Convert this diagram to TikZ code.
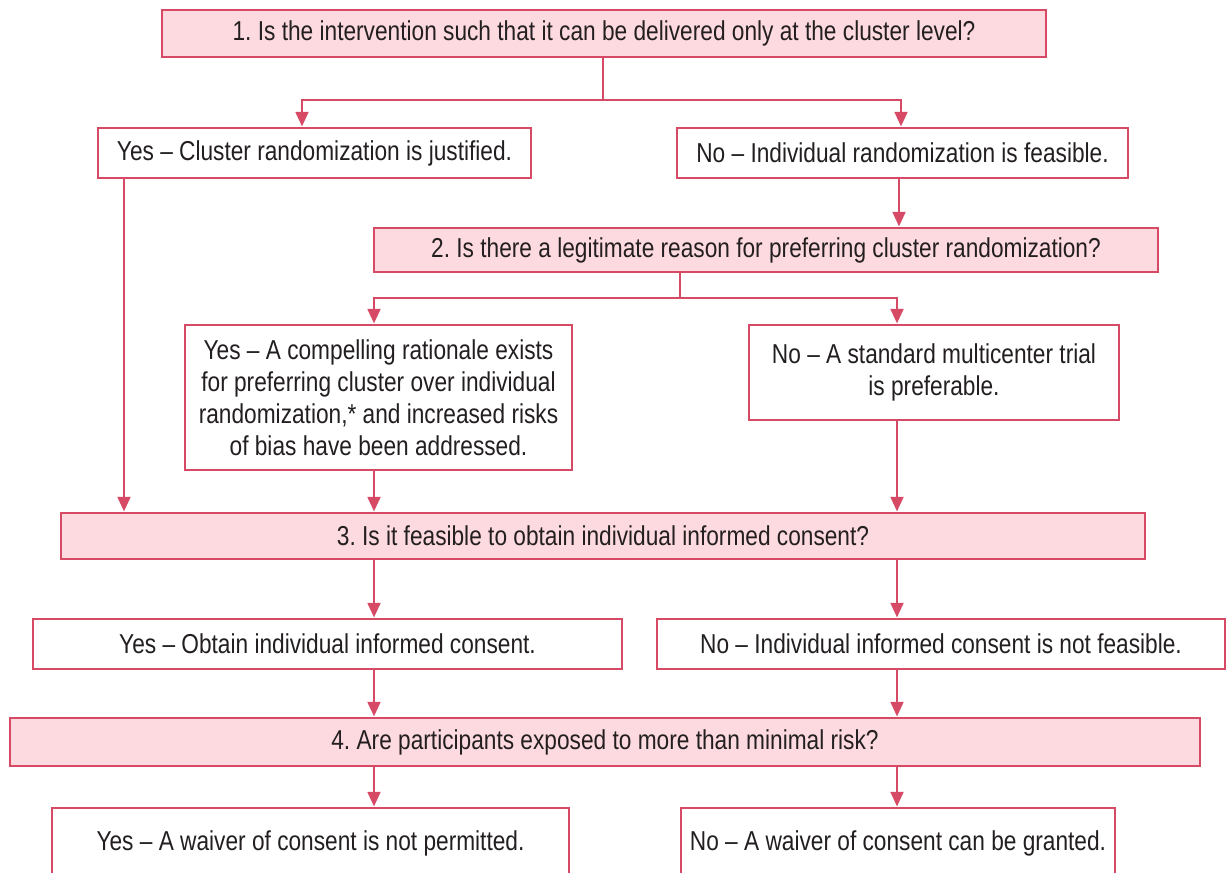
\documentclass[tikz,border=0pt]{standalone}
\usepackage{fontspec}
\setmainfont{Liberation Sans}[FakeStretch=0.83]
\usetikzlibrary{arrows.meta}
\definecolor{lc}{RGB}{214,74,102}
\definecolor{pk}{RGB}{253,218,223}
\definecolor{tx}{RGB}{35,31,32}
\frenchspacing
\begin{document}
\begin{tikzpicture}[x=0.75pt,y=-0.75pt,
  base/.style={draw=lc,line width=2.2pt,inner sep=0pt,align=center,text=tx,
    font=\fontsize{20.5}{24}\selectfont\frenchspacing},
  qbox/.style={base,fill=pk},
  abox/.style={base,fill=white},
  arr/.style={draw=lc,line width=2.1pt,-{Triangle[length=11pt,width=9.5pt]}},
  ln/.style={draw=lc,line width=2.1pt}]
\useasboundingbox (0,0) rectangle (1226,872);
% columns
\coordinate (cY) at (124,0);
\coordinate (cL) at (374,0);
\coordinate (cR) at (897,0);
% nodes
\node[qbox,minimum width=663pt,minimum height=35.25pt] (B1) at (604,33.5)
  {1. Is the intervention such that it can be delivered only at the cluster level?};
\node[abox,minimum width=324.75pt,minimum height=37.5pt] (Y1) at (314.5,153)
  {Yes -- Cluster randomization is justified.};
\node[abox,minimum width=338.25pt,minimum height=37.5pt] (N1) at (902.5,153)
  {No -- Individual randomization is feasible.};
\node[qbox,minimum width=588pt,minimum height=33pt] (B2) at (766,250)
  {2. Is there a legitimate reason for preferring cluster randomization?};
\node[abox,minimum width=290.25pt,minimum height=108.75pt] (Y2) at (378.5,397.5)
  {Yes -- A compelling rationale exists\\for preferring cluster over individual\\randomization,* and increased risks\\of bias have been addressed.};
\node[abox,minimum width=277.5pt,minimum height=71.25pt] (N2) at (934,372.5)
  {No -- A standard multicenter trial\\is preferable.};
\node[qbox,minimum width=813pt,minimum height=34.5pt] (B3) at (603,536)
  {3. Is it feasible to obtain individual informed consent?};
\node[abox,minimum width=441.75pt,minimum height=37.5pt] (Y3) at (327.5,644)
  {Yes -- Obtain individual informed consent.};
\node[abox,minimum width=426pt,minimum height=37.5pt] (N3) at (941,644)
  {No -- Individual informed consent is not feasible.};
\node[qbox,minimum width=892.5pt,minimum height=36pt] (B4) at (605,742)
  {4. Are participants exposed to more than minimal risk?};
\node[abox,minimum width=387.75pt,minimum height=52.5pt] (Y4) at (310.5,843)
  {Yes -- A waiver of consent is not permitted.};
\node[abox,minimum width=325.5pt,minimum height=52.5pt] (N4) at (898,843)
  {No -- A waiver of consent can be granted.};
% connectors
\coordinate (j1) at (603,100);
\coordinate (j2) at (680,298);
\draw[ln] (j1 |- B1.south) -- (j1);
\draw[arr] (j1) -| (Y1.north -| 302,0);
\draw[arr] (j1) -| (N1.north -| 901,0);
\draw[arr] (N1.south -| 899,0) -- (B2.north -| 899,0);
\draw[ln] (j2 |- B2.south) -- (j2);
\draw[arr] (j2) -| (Y2.north -| cL);
\draw[arr] (j2) -| (N2.north -| cR);
\draw[arr] (Y1.south -| cY) -- (B3.north -| cY);
\draw[arr] (Y2.south -| cL) -- (B3.north -| cL);
\draw[arr] (N2.south -| cR) -- (B3.north -| cR);
\draw[arr] (B3.south -| cL) -- (Y3.north -| cL);
\draw[arr] (B3.south -| cR) -- (N3.north -| cR);
\draw[arr] (Y3.south -| cL) -- (B4.north -| cL);
\draw[arr] (N3.south -| cR) -- (B4.north -| cR);
\draw[arr] (B4.south -| cL) -- (Y4.north -| cL);
\draw[arr] (B4.south -| cR) -- (N4.north -| cR);
\end{tikzpicture}
\end{document}
